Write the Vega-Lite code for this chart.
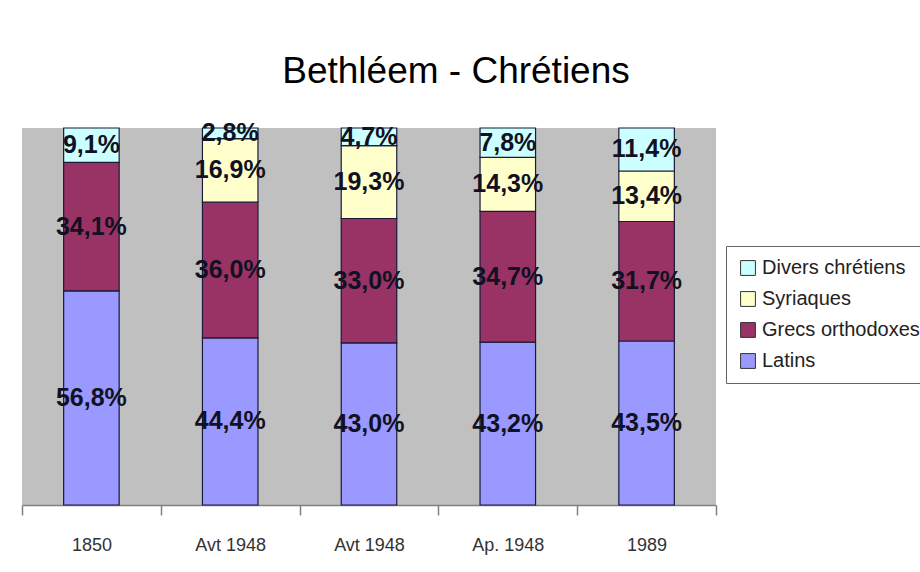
{
  "$schema": "https://vega.github.io/schema/vega-lite/v6.json",
  "autosize": {"type": "none"},
  "padding": {"left": 22, "top": 128, "right": 204, "bottom": 67},
  "width": 694,
  "height": 377,
  "background": "white",
  "title": {
    "text": "Bethléem - Chrétiens",
    "font": "Liberation Sans",
    "fontSize": 37,
    "fontWeight": "normal",
    "color": "black",
    "anchor": "middle",
    "dx": 87,
    "offset": 30
  },
  "config": {
    "view": {"fill": "#C0C0C0", "stroke": null},
    "font": "Liberation Sans",
    "locale": {
      "number": {"decimal": ",", "thousands": " ", "grouping": [3], "currency": ["", "%"]}
    }
  },
  "data": {
    "values": [
      {"k": 1, "groupe": "Latins", "rang": 1, "pct": 56.8},
      {"k": 1, "groupe": "Grecs orthodoxes", "rang": 2, "pct": 34.1},
      {"k": 1, "groupe": "Divers chrétiens", "rang": 4, "pct": 9.1},
      {"k": 2, "groupe": "Latins", "rang": 1, "pct": 44.4},
      {"k": 2, "groupe": "Grecs orthodoxes", "rang": 2, "pct": 36.0},
      {"k": 2, "groupe": "Syriaques", "rang": 3, "pct": 16.9},
      {"k": 2, "groupe": "Divers chrétiens", "rang": 4, "pct": 2.8},
      {"k": 3, "groupe": "Latins", "rang": 1, "pct": 43.0},
      {"k": 3, "groupe": "Grecs orthodoxes", "rang": 2, "pct": 33.0},
      {"k": 3, "groupe": "Syriaques", "rang": 3, "pct": 19.3},
      {"k": 3, "groupe": "Divers chrétiens", "rang": 4, "pct": 4.7},
      {"k": 4, "groupe": "Latins", "rang": 1, "pct": 43.2},
      {"k": 4, "groupe": "Grecs orthodoxes", "rang": 2, "pct": 34.7},
      {"k": 4, "groupe": "Syriaques", "rang": 3, "pct": 14.3},
      {"k": 4, "groupe": "Divers chrétiens", "rang": 4, "pct": 7.8},
      {"k": 5, "groupe": "Latins", "rang": 1, "pct": 43.5},
      {"k": 5, "groupe": "Grecs orthodoxes", "rang": 2, "pct": 31.7},
      {"k": 5, "groupe": "Syriaques", "rang": 3, "pct": 13.4},
      {"k": 5, "groupe": "Divers chrétiens", "rang": 4, "pct": 11.4}
    ]
  },
  "encoding": {
    "x": {
      "field": "k",
      "type": "ordinal",
      "scale": {"paddingInner": 0, "paddingOuter": 0},
      "axis": {
        "title": null,
        "labelExpr": "['1850','Avt 1948','Avt 1948','Ap. 1948','1989'][datum.value-1]",
        "labelAngle": 0,
        "labelFont": "Liberation Sans",
        "labelFontSize": 18,
        "labelColor": "#333333",
        "labelPadding": 21,
        "domainColor": "#808080",
        "domainWidth": 1.5,
        "tickColor": "#808080",
        "tickSize": 10,
        "tickWidth": 1.5,
        "tickBand": "extent",
        "grid": false
      }
    },
    "y": {
      "field": "pct",
      "type": "quantitative",
      "stack": "normalize",
      "axis": null
    },
    "order": {"field": "rang", "type": "quantitative", "sort": "ascending"}
  },
  "layer": [
    {
      "mark": {"type": "bar", "width": {"band": 0.4}, "stroke": "#1a1a3a", "strokeWidth": 1.2},
      "encoding": {
        "color": {
          "field": "groupe",
          "type": "nominal",
          "scale": {
            "domain": ["Divers chrétiens", "Syriaques", "Grecs orthodoxes", "Latins"],
            "range": ["#CCFFFF", "#FFFFCC", "#993366", "#9999FF"]
          },
          "legend": {
            "title": null,
            "orient": "none",
            "legendX": 704,
            "legendY": 118,
            "direction": "vertical",
            "symbolType": "square",
            "symbolSize": 220,
            "symbolStrokeColor": "#333333",
            "symbolStrokeWidth": 1,
            "labelFont": "Liberation Sans",
            "labelFontSize": 20,
            "labelColor": "#222222",
            "rowPadding": 11,
            "strokeColor": "#666666",
            "fillColor": "white",
            "padding": 12,
            "labelLimit": 300
          }
        }
      }
    },
    {
      "mark": {"type": "text", "font": "Liberation Sans", "fontSize": 25, "fontWeight": "bold", "color": "#111122"},
      "encoding": {
        "y": {"field": "pct", "type": "quantitative", "stack": "normalize", "bandPosition": 0.5},
        "text": {"field": "pct", "type": "quantitative", "format": "$.1f"}
      }
    }
  ]
}
